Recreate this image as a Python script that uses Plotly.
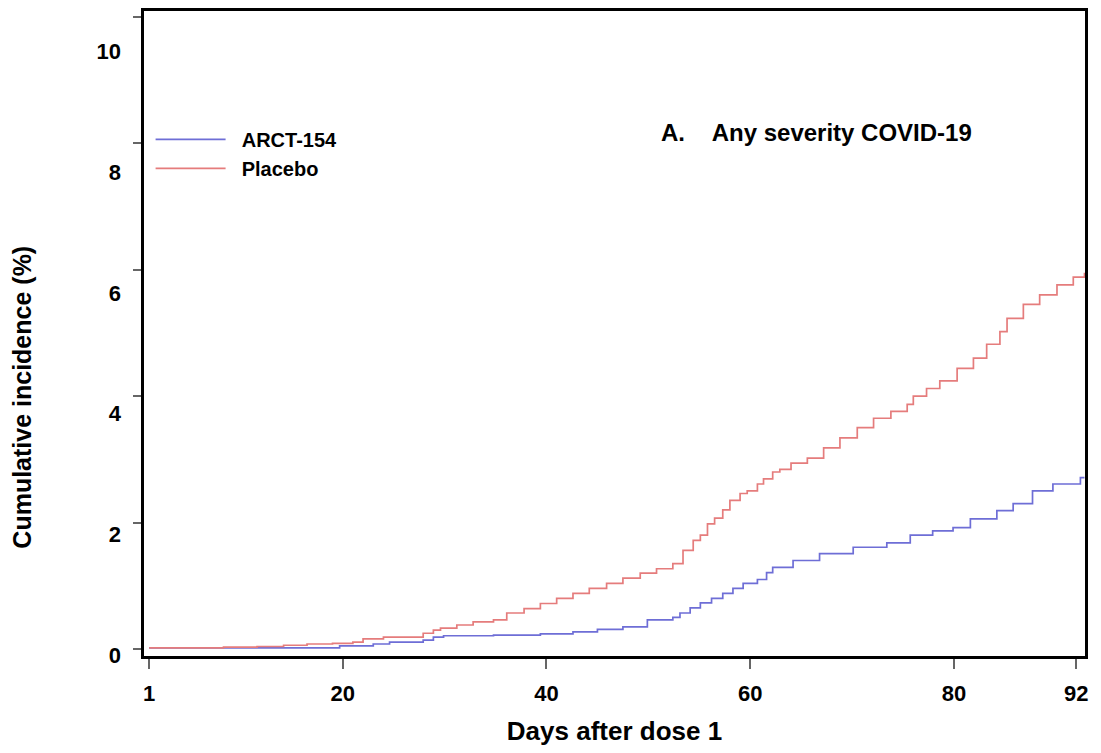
import plotly.graph_objects as go

# ---- data ----
placebo_days = [1, 6, 8.3, 11.6, 14.2, 16.5, 19, 21, 22, 24, 26.9, 27.9, 28.9, 29.6, 31.2,
                32.8, 34.8, 36.1, 37.8, 39.4, 41, 42.6, 44.2, 45.9, 47.5, 49.2, 50.8, 52.4,
                53.4, 54.4, 55.1, 55.8, 56.5, 57.3, 58, 59, 59.7, 60.7, 61.3, 62.2, 62.9,
                64, 65.6, 67.2, 68.8, 70.5, 72.1, 73.8, 75.4, 76, 77.3, 78.6, 80.3, 81.9,
                83.2, 84.5, 85.2, 86.8, 88.4, 90.1, 91.7, 92.8]
placebo_pct = [0.02, 0.02, 0.03, 0.04, 0.06, 0.08, 0.09, 0.11, 0.16, 0.19, 0.19, 0.25, 0.3,
               0.33, 0.38, 0.43, 0.46, 0.57, 0.64, 0.72, 0.8, 0.88, 0.96, 1.04, 1.12, 1.2,
               1.27, 1.35, 1.56, 1.72, 1.8, 1.98, 2.07, 2.2, 2.35, 2.46, 2.5, 2.61, 2.69,
               2.8, 2.84, 2.94, 3.02, 3.18, 3.34, 3.5, 3.65, 3.76, 3.87, 4.0, 4.12, 4.24,
               4.44, 4.6, 4.82, 5.02, 5.23, 5.45, 5.6, 5.76, 5.88, 5.95]

arct_days = [1, 19.7, 23, 24.6, 27.9, 28.9, 29.9, 34.8, 39.4, 42.6, 45, 47.5, 49.9, 52.4,
             53.1, 54.1, 55.1, 56.2, 57.3, 58.3, 59.3, 60.7, 61.6, 62.2, 64.2, 66.8, 70.1,
             73.4, 75.7, 77.9, 79.9, 81.6, 84.2, 85.8, 87.7, 89.7, 92.4, 92.8]
arct_pct = [0.02, 0.05, 0.08, 0.11, 0.14, 0.19, 0.21, 0.22, 0.24, 0.27, 0.31, 0.35, 0.46,
            0.5, 0.57, 0.65, 0.73, 0.8, 0.88, 0.96, 1.04, 1.1, 1.21, 1.29, 1.4, 1.51, 1.61,
            1.68, 1.8, 1.87, 1.92, 2.06, 2.19, 2.3, 2.5, 2.61, 2.71, 2.71]

x_ticks = [1, 20, 40, 60, 80, 92]
y_ticks = [0, 2, 4, 6, 8, 10]

assert len(placebo_days) == len(placebo_pct)
assert len(arct_days) == len(arct_pct)

FONT = "Liberation Sans, Arial, sans-serif"
SP = "\u00a0"

fig = go.Figure()
fig.add_trace(go.Scatter(x=arct_days, y=arct_pct, mode="lines",
                         name=SP * 2 + "<b>ARCT-154</b>",
                         line=dict(color="#6e6ed6", width=1.7, shape="hv")))
fig.add_trace(go.Scatter(x=placebo_days, y=placebo_pct, mode="lines",
                         name=SP * 2 + "<b>Placebo</b>",
                         line=dict(color="#e57c7c", width=1.7, shape="hv")))
# invisible carrier so the label axis (y2) is drawn
fig.add_trace(go.Scatter(x=[x_ticks[0]] * len(y_ticks), y=y_ticks, yaxis="y2",
                         mode="markers", marker=dict(opacity=0), showlegend=False,
                         hoverinfo="skip"))

# page has an 8px body margin, so the figure is sized 8px smaller
fig.update_layout(
    width=1093, height=745,
    margin=dict(l=136, r=16, t=0, b=97),
    paper_bgcolor="white", plot_bgcolor="white",
    font=dict(family=FONT, color="black"),
    showlegend=True,
    legend=dict(x=0.007, xanchor="left", y=0.7785, yanchor="middle",
                font=dict(size=20, family=FONT), bgcolor="rgba(0,0,0,0)",
                itemwidth=70, tracegroupgap=0),
    xaxis=dict(range=[0.5, 92.85], tickvals=x_ticks, ticktext=[f"<b>{t}</b>" for t in x_ticks],
               showline=True, linecolor="black", linewidth=3, mirror=True,
               ticks="outside", ticklen=10, tickcolor="#666", tickwidth=1.5,
               ticklabelstandoff=6, tickfont=dict(size=22, family=FONT),
               showgrid=False, zeroline=False,
               title=dict(text="<b>Days after dose 1</b>", font=dict(size=26, family=FONT),
                          standoff=17)),
    yaxis=dict(range=[-0.11, 10.09], tickvals=y_ticks, showticklabels=False,
               showline=True, linecolor="black", linewidth=3, mirror=True,
               ticks="outside", ticklen=8, tickcolor="#666", tickwidth=1.5,
               showgrid=False, zeroline=False),
    yaxis2=dict(overlaying="y", side="left", range=[-0.0165, 10.676], tickvals=y_ticks,
                ticktext=[f"<b>{t}</b>" for t in y_ticks], ticks="", showline=False,
                showgrid=False, zeroline=False, ticklabelstandoff=22,
                tickfont=dict(size=22, family=FONT)),
)

fig.add_annotation(text="<b>Cumulative incidence (%)</b>", textangle=-90,
                   xref="paper", yref="paper", x=-0.1297, y=0.402,
                   xanchor="center", yanchor="middle", showarrow=False,
                   font=dict(size=25, family=FONT))
fig.add_annotation(text="<b>A." + SP * 4 + "Any severity COVID-19</b>",
                   xref="paper", yref="paper", x=0.5475, y=0.812,
                   xanchor="left", yanchor="middle", showarrow=False,
                   font=dict(size=24, family=FONT))

fig.write_html("out.html")
